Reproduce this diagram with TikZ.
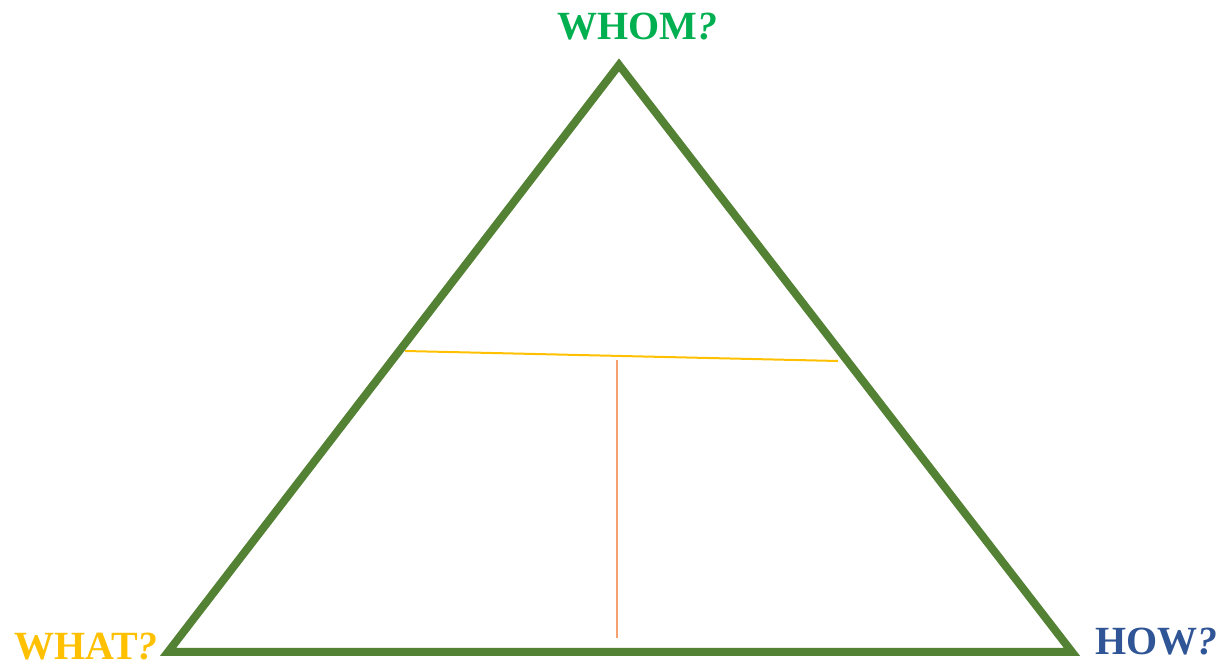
\documentclass[tikz,border=0pt]{standalone}
\usepackage{fontspec}
\setmainfont{Liberation Serif}
\definecolor{trigreen}{HTML}{548235}
\definecolor{whomgreen}{HTML}{00B050}
\definecolor{whatyellow}{HTML}{FFC000}
\definecolor{howblue}{HTML}{2F5597}
\definecolor{stemorange}{HTML}{F4A070}
\tikzset{
  lbl/.style={anchor=base west, inner sep=0pt, font=\fontsize{40}{44}\selectfont\bfseries},
  tri/.style={draw=trigreen, line width=8pt, line join=miter},
}
\begin{document}
\begin{tikzpicture}[x=1pt,y=1pt]
\useasboundingbox (0,0) rectangle (1229,669);
\coordinate (top) at (619,604);
\coordinate (bl) at (168,17);
\coordinate (br) at (1072,17);
\draw[tri] (top) -- (bl) -- (br) -- cycle;
\coordinate (ya) at (405,318);
\coordinate (yb) at (838,308);
\draw[whatyellow, line width=2pt] (ya) -- (yb);
\coordinate (oa) at (617,309);
\coordinate (ob) at (617,31);
\draw[stemorange, line width=2pt] (oa) -- (ob);
\node[lbl, text=whomgreen] (whom) at (557,629) {WHOM\textit{?}};
\node[lbl, text=whatyellow] (what) at (14,9.5) {WHAT\textit{?}};
\node[lbl, text=howblue] (how) at (1095,14) {HOW\textit{?}};
\end{tikzpicture}
\end{document}
